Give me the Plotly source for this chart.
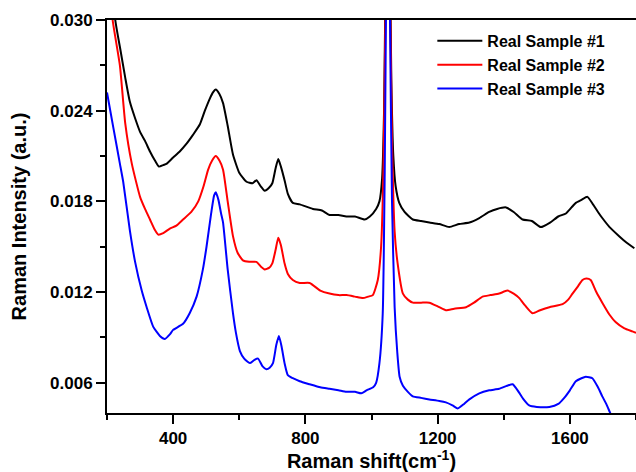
import plotly.graph_objects as go

# ---- data ----
x1 = [200, 225, 240, 255, 269, 285, 300, 315, 330, 345, 357, 370, 381, 400, 420, 440, 460, 481, 496, 511,
      520, 529, 540, 551, 565, 581, 600, 622, 640, 652, 665, 677, 690, 700, 710, 718, 726, 737, 747, 762,
      783, 823, 850, 873, 900, 924, 950, 979, 995, 1014, 1024, 1032, 1038, 1043, 1049, 1055, 1060, 1066,
      1073, 1084, 1100, 1125, 1150, 1175, 1205, 1235, 1265, 1296, 1326, 1356, 1380, 1407, 1430, 1457,
      1485, 1512, 1540, 1565, 1588, 1605, 1618, 1635, 1653, 1670, 1685, 1698, 1720, 1749, 1770, 1795]
y1 = [0.0380, 0.0300, 0.0281, 0.0262, 0.0246, 0.0235, 0.0226, 0.0220, 0.0213, 0.0207, 0.0203, 0.0204,
      0.0205, 0.0209, 0.0213, 0.0218, 0.0224, 0.0231, 0.0240, 0.0248, 0.0252, 0.0254, 0.0251, 0.0245,
      0.0230, 0.0211, 0.0199, 0.0193, 0.0192, 0.0194, 0.0190, 0.0187, 0.0189, 0.0192, 0.0202, 0.0208,
      0.0203, 0.0194, 0.0185, 0.0179, 0.0178, 0.0175, 0.0174, 0.0171, 0.0171, 0.0170, 0.0170, 0.0168,
      0.0170, 0.0175, 0.0180, 0.0195, 0.0240, 0.0340, 0.0480, 0.0360, 0.0260, 0.0210, 0.0190, 0.0179,
      0.0173, 0.0168, 0.0167, 0.0166, 0.0165, 0.0163, 0.0165, 0.0166, 0.0169, 0.0173, 0.0175, 0.0176,
      0.0173, 0.0168, 0.0167, 0.0163, 0.0166, 0.0170, 0.0172, 0.0176, 0.0179, 0.0181, 0.0183, 0.0178,
      0.0173, 0.0169, 0.0163, 0.0157, 0.0153, 0.0149]

x2 = [200, 217, 239, 255, 275, 300, 315, 330, 345, 355, 370, 390, 410, 430, 455, 476, 492, 506, 518, 529,
      540, 551, 565, 581, 595, 611, 630, 652, 665, 677, 690, 700, 710, 718, 726, 737, 747, 762, 783, 813,
      845, 873, 900, 924, 950, 974, 990, 1004, 1019, 1029, 1036, 1042, 1049, 1056, 1062, 1070, 1079, 1095,
      1110, 1125, 1150, 1175, 1205, 1225, 1250, 1286, 1310, 1336, 1360, 1386, 1411, 1430, 1447, 1465,
      1487, 1510, 1538, 1578, 1595, 1608, 1625, 1638, 1650, 1663, 1680, 1698, 1720, 1739, 1765, 1789, 1800]
y2 = [0.0345, 0.0300, 0.0270, 0.0232, 0.0205, 0.0183, 0.0175, 0.0168, 0.0161, 0.0158, 0.0159, 0.0162,
      0.0164, 0.0168, 0.0173, 0.0180, 0.0190, 0.0201, 0.0207, 0.0210, 0.0207, 0.0201, 0.0180, 0.0157,
      0.0146, 0.0141, 0.0140, 0.0140, 0.0137, 0.0135, 0.0136, 0.0139, 0.0148, 0.0156, 0.0151, 0.0139,
      0.0132, 0.0128, 0.0126, 0.0126, 0.0121, 0.0119, 0.0118, 0.0118, 0.0117, 0.0116, 0.0117, 0.0118,
      0.0128, 0.0150, 0.0200, 0.0300, 0.0460, 0.0320, 0.0220, 0.0160, 0.0139, 0.0119, 0.0115, 0.0113,
      0.0113, 0.0113, 0.0110, 0.0108, 0.0109, 0.0110, 0.0113, 0.0117, 0.0118, 0.0119, 0.0121, 0.0119,
      0.0116, 0.0111, 0.0106, 0.0108, 0.0110, 0.0112, 0.0115, 0.0119, 0.0124, 0.0128, 0.0129, 0.0128,
      0.0120, 0.0113, 0.0105, 0.0100, 0.0096, 0.0094, 0.0093]

x3 = [200, 219, 239, 249, 269, 285, 305, 320, 340, 360, 375, 390, 400, 430, 450, 471, 490, 501, 515, 524,
      529, 537, 545, 551, 565, 581, 590, 602, 615, 632, 645, 657, 670, 682, 692, 702, 712, 720, 728, 737,
      747, 762, 783, 813, 845, 873, 900, 924, 950, 969, 985, 1005, 1014, 1024, 1034, 1040, 1045, 1050,
      1056, 1062, 1070, 1078, 1085, 1095, 1110, 1125, 1150, 1175, 1205, 1225, 1245, 1261, 1280, 1296,
      1326, 1356, 1386, 1410, 1427, 1445, 1460, 1477, 1500, 1538, 1565, 1583, 1600, 1618, 1635, 1648,
      1668, 1685, 1698, 1710, 1720, 1730]
y3 = [0.0252, 0.0229, 0.0205, 0.0193, 0.0161, 0.0140, 0.0121, 0.0110, 0.0097, 0.0091, 0.0089, 0.0092,
      0.0095, 0.0099, 0.0106, 0.0117, 0.0135, 0.0150, 0.0172, 0.0184, 0.0186, 0.0181, 0.0172, 0.0166,
      0.0135, 0.0106, 0.0093, 0.0081, 0.0076, 0.0073, 0.0075, 0.0076, 0.0071, 0.0069, 0.0070, 0.0073,
      0.0085, 0.0091, 0.0084, 0.0073, 0.0065, 0.0063, 0.0061, 0.0059, 0.0057, 0.0056, 0.0055, 0.0054,
      0.0054, 0.0053, 0.0055, 0.0057, 0.0060, 0.0073, 0.0106, 0.0200, 0.0340, 0.0450, 0.0300, 0.0180,
      0.0110, 0.0080, 0.0064, 0.0058, 0.0054, 0.0051, 0.0050, 0.0049, 0.0048, 0.0047, 0.0045, 0.0043,
      0.0046, 0.0049, 0.0053, 0.0055, 0.0056, 0.0058, 0.0059, 0.0054, 0.0049, 0.0045, 0.0044, 0.0044,
      0.0046, 0.0050, 0.0055, 0.0061, 0.0063, 0.0064, 0.0063, 0.0057, 0.0051, 0.0046, 0.0041, 0.0036]

names = ["Real Sample #1", "Real Sample #2", "Real Sample #3"]
colors = ["#000000", "#ff0000", "#0000ff"]

FONT = "Liberation Sans, Arial, sans-serif"

fig = go.Figure()
for xs, ys, nm, c in zip([x1, x2, x3], [y1, y2, y3], names, colors):
    fig.add_trace(go.Scatter(x=xs, y=ys, mode="lines", name=nm,
                             line=dict(color=c, width=2, shape="spline", smoothing=0.5)))

axis_common = dict(
    showline=True, linecolor="black", linewidth=2,
    ticks="outside", ticklen=9, tickwidth=2, tickcolor="black",
    showgrid=False, zeroline=False,
    tickfont=dict(family=FONT, size=17, color="black", weight="bold"),
)

fig.update_layout(
    width=636, height=472,
    margin=dict(l=107, r=0, t=20, b=59),
    paper_bgcolor="white", plot_bgcolor="white",
    font=dict(family=FONT, color="black"),
    showlegend=True,
    legend=dict(x=0.615, y=0.99, xanchor="left", yanchor="top",
                bgcolor="rgba(0,0,0,0)", itemwidth=45,
                font=dict(family=FONT, size=16, color="black", weight="bold"),
                tracegroupgap=0),
    xaxis=dict(range=[200, 1800], dtick=400, tick0=0, mirror=True,
               minor=dict(dtick=200, ticks="outside", ticklen=5, tickwidth=2, tickcolor="black"),
               title=dict(text="Raman shift(cm<sup>-1</sup>)", standoff=9,
                          font=dict(family=FONT, size=20, color="black", weight="bold")),
               **axis_common),
    yaxis=dict(range=[0.004, 0.030], dtick=0.006, tick0=0, tickformat=".3f",
               minor=dict(dtick=0.003, ticks="outside", ticklen=5, tickwidth=2, tickcolor="black"),
               title=dict(text="Raman Intensity (a.u.)", standoff=18,
                          font=dict(family=FONT, size=20, color="black", weight="bold")),
               **axis_common),
)

fig.write_html("out.html")
